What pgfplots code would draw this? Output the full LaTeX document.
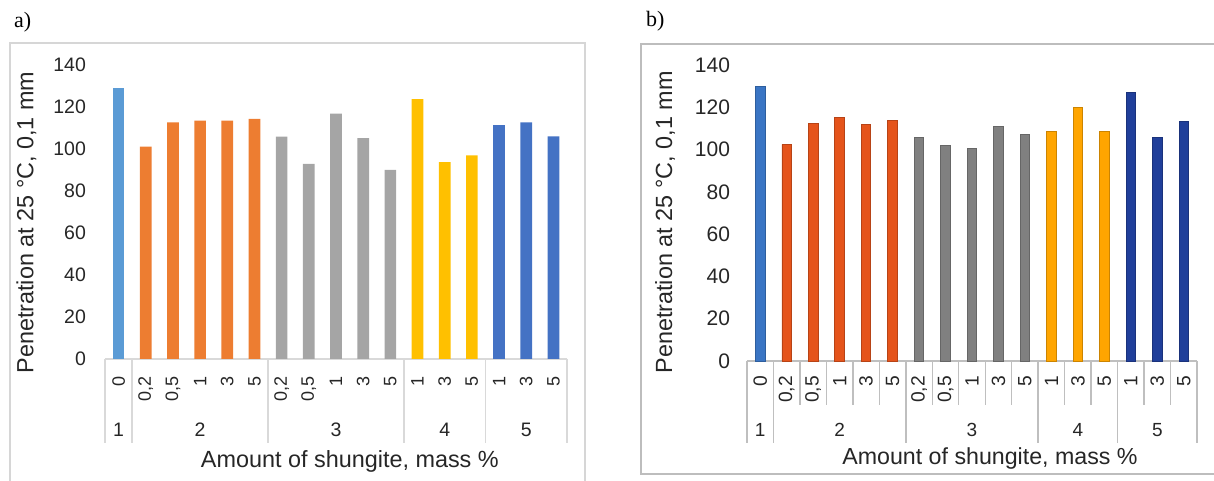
\documentclass[border=0pt]{standalone}
\usepackage{pgfplots}
\pgfplotsset{compat=1.18}
\usepackage{fontspec}
\setmainfont{Liberation Sans}
\newfontfamily\seriffont{Liberation Serif}

\definecolor{aA}{HTML}{5B9BD5}
\definecolor{aB}{HTML}{ED7D31}
\definecolor{aC}{HTML}{A5A5A5}
\definecolor{aD}{HTML}{FFC000}
\definecolor{aE}{HTML}{4472C4}
\definecolor{bA}{HTML}{3A75C4}
\definecolor{bB}{HTML}{E5541B}
\definecolor{bC}{HTML}{808080}
\definecolor{bD}{HTML}{FFA500}
\definecolor{bE}{HTML}{203F9A}
\definecolor{tickcol}{HTML}{262626}
\definecolor{sepA}{HTML}{D9D9D9}
\definecolor{sepB}{HTML}{BFBFBF}
\definecolor{frameA}{HTML}{D6D6D6}
\definecolor{frameB}{HTML}{BDBDBD}

\pgfplotsset{
  shunbase/.style={
    scale only axis,
    xmin=-0.5, xmax=16.5, ymin=0, ymax=140,
    ytick={0,20,...,140},
    xtick={0,...,16},
    xticklabels={0,{0,2},{0,5},1,3,5,{0,2},{0,5},1,3,5,1,3,5,1,3,5},
    axis line style={draw=none},
    major tick length=0pt,
    tick style={draw=none},
    ticklabel style={text=tickcol},
    /pgf/number format/assume math mode=true,
    clip=false,
    ylabel={Penetration at 25 °C, 0,1 mm},
    xlabel={Amount of shungite, mass \%},
    label style={text=tickcol},
  },
  barA/.style={ybar, bar width=0.43, bar shift=0pt, draw=none, fill=#1},
  barB/.style={ybar, bar width=0.36, bar shift=0pt, draw=#1!80!black, line width=0.4pt, fill=#1},
}

\begin{document}
\begin{tikzpicture}
\useasboundingbox (0,0) rectangle (607pt,240.5pt);

% frames
\draw[frameA, line width=0.6pt] (5pt,-1pt) -- (5pt,219pt) -- (292.5pt,219pt) -- (292.5pt,-1pt);
\draw[frameB, line width=0.7pt] (320.5pt,3.5pt) rectangle (608pt,218.5pt);

\node[anchor=west, font=\seriffont\fontsize{11}{12}\selectfont] at (3.5pt,229.5pt) {a)};
\node[anchor=west, font=\seriffont\fontsize{11}{12}\selectfont] at (319.5pt,230pt) {b)};

% ---------------- panel a ----------------
\begin{axis}[shunbase,
  at={(52.5pt,61pt)}, anchor=south west,
  width=231pt, height=147pt,
  yticklabel style={font=\fontsize{9.75}{10}\selectfont, xshift=-6pt},
  xticklabel style={rotate=90, anchor=east, font=\fontsize{9}{10}\selectfont, xshift=-5pt},
  ylabel style={at={(axis description cs:-0.17,0.464)}, anchor=center, font=\fontsize{11.7}{12}\selectfont},
  xlabel style={at={(axis description cs:0.53,-0.35)}, anchor=center, font=\fontsize{11.7}{12}\selectfont},
]
\draw[sepA, line width=0.7pt] (axis cs:-0.5,0) -- (axis cs:16.5,0);
\pgfplotsinvokeforeach{-0.5,0.5,5.5,10.5,13.5,16.5}{
  \draw[sepA, line width=0.7pt] (axis cs:#1,0) -- ++(0pt,-42pt);
}
\addplot[barA=aA] coordinates {(0,129.2)};
\addplot[barA=aB] coordinates {(1,101.1) (2,112.7) (3,113.5) (4,113.5) (5,114.3)};
\addplot[barA=aC] coordinates {(6,105.9) (7,92.9) (8,116.8) (9,105.2) (10,90.0)};
\addplot[barA=aD] coordinates {(11,123.8) (12,93.7) (13,97.0)};
\addplot[barA=aE] coordinates {(14,111.4) (15,112.7) (16,106.0)};
\node[font=\fontsize{9.75}{10}\selectfont, text=tickcol, yshift=-35.5pt] at (axis cs:0,0) {1};
\node[font=\fontsize{9.75}{10}\selectfont, text=tickcol, yshift=-35.5pt] at (axis cs:3,0) {2};
\node[font=\fontsize{9.75}{10}\selectfont, text=tickcol, yshift=-35.5pt] at (axis cs:8,0) {3};
\node[font=\fontsize{9.75}{10}\selectfont, text=tickcol, yshift=-35.5pt] at (axis cs:12,0) {4};
\node[font=\fontsize{9.75}{10}\selectfont, text=tickcol, yshift=-35.5pt] at (axis cs:15,0) {5};
\end{axis}

% ---------------- panel b ----------------
\begin{axis}[shunbase,
  at={(373.5pt,60pt)}, anchor=south west,
  width=225pt, height=148pt,
  yticklabel style={font=\fontsize{10.5}{11}\selectfont, xshift=-5pt},
  xticklabel style={rotate=90, anchor=east, font=\fontsize{9.6}{10}\selectfont, xshift=-4pt},
  ylabel style={at={(axis description cs:-0.182,0.468)}, anchor=center, font=\fontsize{11.7}{12}\selectfont},
  xlabel style={at={(axis description cs:0.54,-0.328)}, anchor=center, font=\fontsize{11.6}{12}\selectfont},
]
\draw[sepB, line width=0.7pt] (axis cs:-0.5,0) -- (axis cs:16.5,0);
\pgfplotsinvokeforeach{-0.5,0.5,5.5,10.5,13.5,16.5}{
  \draw[sepB, line width=0.7pt] (axis cs:#1,0) -- ++(0pt,-41pt);
}
\pgfplotsinvokeforeach{1.5,2.5,3.5,4.5,6.5,7.5,8.5,9.5,11.5,12.5,14.5,15.5}{
  \draw[sepB, line width=0.7pt] (axis cs:#1,0) -- ++(0pt,-22pt);
}
\addplot[barB=bA] coordinates {(0,129.7)};
\addplot[barB=bB] coordinates {(1,102.4) (2,112.4) (3,115.1) (4,111.7) (5,113.8)};
\addplot[barB=bC] coordinates {(6,105.7) (7,101.8) (8,100.4) (9,111.1) (10,107.0)};
\addplot[barB=bD] coordinates {(11,108.4) (12,119.8) (13,108.4)};
\addplot[barB=bE] coordinates {(14,127.0) (15,105.7) (16,113.2)};
\node[font=\fontsize{9.5}{10}\selectfont, text=tickcol, yshift=-34.5pt] at (axis cs:0,0) {1};
\node[font=\fontsize{9.5}{10}\selectfont, text=tickcol, yshift=-34.5pt] at (axis cs:3,0) {2};
\node[font=\fontsize{9.5}{10}\selectfont, text=tickcol, yshift=-34.5pt] at (axis cs:8,0) {3};
\node[font=\fontsize{9.5}{10}\selectfont, text=tickcol, yshift=-34.5pt] at (axis cs:12,0) {4};
\node[font=\fontsize{9.5}{10}\selectfont, text=tickcol, yshift=-34.5pt] at (axis cs:15,0) {5};
\end{axis}
\end{tikzpicture}
\end{document}
